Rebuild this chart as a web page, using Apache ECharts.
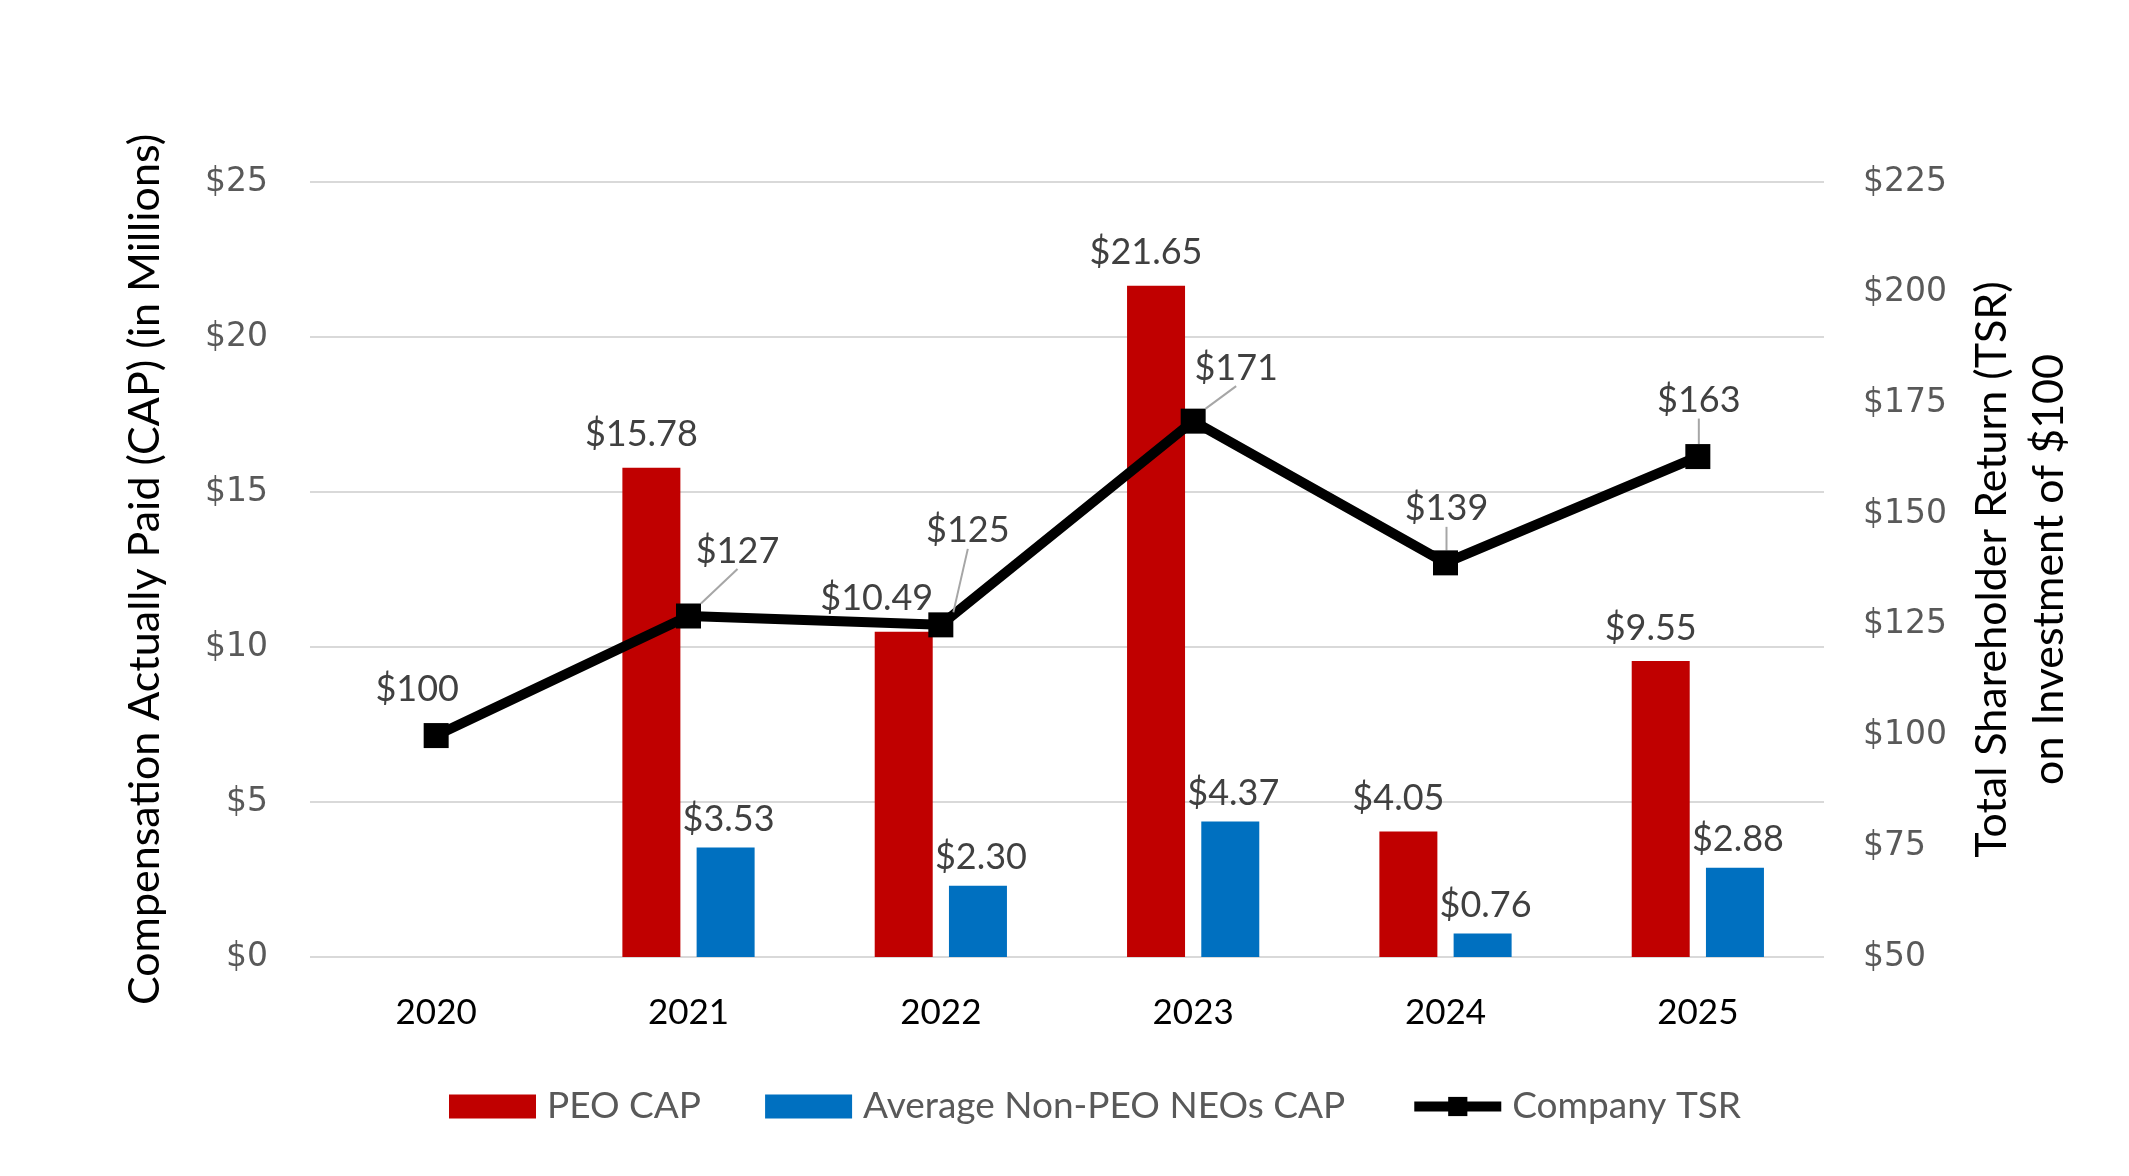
<!DOCTYPE html>
<html>
<head>
<meta charset="utf-8">
<script src="https://cdn.jsdelivr.net/npm/echarts@6/dist/echarts.min.js"></script>
<style>
  html, body { margin: 0; padding: 0; background: #fff; }
  #chart { width: 2129px; height: 1176px; }
</style>
</head>
<body>
<div id="chart"></div>
<script>
// chart data
var years = ['2020', '2021', '2022', '2023', '2024', '2025'];
var peoCap = [null, 15.78, 10.49, 21.65, 4.05, 9.55];
var neoCap = [null, 3.53, 2.30, 4.37, 0.76, 2.88];
var companyTsr = [100, 127, 125, 171, 139, 163];
var leftTicks = [0, 25, 5];      // min, max, interval
var rightTicks = [50, 225, 25];  // min, max, interval

// where the TSR labels sit relative to their point
var tsrLabelShift = [[-19, -46], [49, -65], [27, -94], [43, -53], [1, -54], [1, -56]];

var labelFont = 'Lato';
var chart = echarts.init(document.getElementById('chart'));

var option = {
    backgroundColor: '#fff',
    animation: false,
    grid: {left: 310, right: 305, top: 182, bottom: 219},
    legend: {
        bottom: 46,
        left: 444,
        itemWidth: 87,
        itemHeight: 24,
        itemGap: 64,
        textStyle: {fontFamily: labelFont, fontSize: 37, color: '#595959', padding: [0, 0, 0, 6]},
        data: [
            {name: 'PEO CAP', icon: 'rect'},
            {name: 'Average Non-PEO NEOs CAP', icon: 'rect'},
            {name: 'Company TSR', lineStyle: {width: 10}}
        ]
    },
    xAxis: {
        type: 'category',
        data: years,
        axisLine: {show: false},
        axisTick: {show: false},
        axisLabel: {fontFamily: labelFont, fontSize: 35, color: '#000', margin: 38}
    },
    yAxis: [{
        type: 'value',
        min: leftTicks[0], max: leftTicks[1], interval: leftTicks[2],
        name: 'Compensation Actually Paid (CAP) (in Millions)',
        nameLocation: 'middle',
        nameGap: 143,
        nameTextStyle: {fontFamily: labelFont, fontSize: 43, color: '#000'},
        axisLabel: {fontFamily: 'DejaVu Sans', fontSize: 33, color: '#595959', margin: 42,
            formatter: function (v) { return '$' + v; }},
        splitLine: {lineStyle: {color: '#d9d9d9', width: 2}}
    }, {
        type: 'value',
        min: rightTicks[0], max: rightTicks[1], interval: rightTicks[2],
        name: 'Total Shareholder Return (TSR)\non Investment of $100',
        nameLocation: 'middle',
        nameRotate: 90,
        nameGap: 140,
        nameTextStyle: {fontFamily: labelFont, fontSize: 43, color: '#000', lineHeight: 57},
        axisLabel: {fontFamily: 'DejaVu Sans', fontSize: 33, color: '#595959', margin: 39,
            formatter: function (v) { return '$' + v; }},
        splitLine: {show: false}
    }],
    series: [{
        name: 'PEO CAP',
        type: 'bar',
        barWidth: 58,
        barGap: '28%',
        itemStyle: {color: '#C00000'},
        label: {
            show: true, position: 'top', distance: 15, offset: [-10, 0],
            fontFamily: labelFont, fontSize: 36, color: '#404040',
            formatter: function (p) { return '$' + p.value.toFixed(2); }
        },
        data: peoCap.map(function (v, i) {
            return i === 2 ? {value: v, label: {offset: [-27, 0]}} : v;
        })
    }, {
        name: 'Average Non-PEO NEOs CAP',
        type: 'bar',
        barWidth: 58,
        itemStyle: {color: '#0070C0'},
        label: {
            show: true, position: 'top', distance: 10, offset: [3, 0],
            fontFamily: labelFont, fontSize: 36, color: '#404040',
            formatter: function (p) { return '$' + p.value.toFixed(2); }
        },
        data: neoCap
    }, {
        name: 'Company TSR',
        type: 'line',
        yAxisIndex: 1,
        z: 5,
        symbol: 'rect',
        symbolSize: 25,
        lineStyle: {color: '#000', width: 10},
        itemStyle: {color: '#000'},
        label: {
            show: true, position: 'inside',
            fontFamily: labelFont, fontSize: 36, color: '#404040',
            formatter: function (p) { return '$' + p.value; }
        },
        labelLine: {show: true, lineStyle: {color: '#a6a6a6', width: 2}},
        labelLayout: function (params) {
            var s = tsrLabelShift[params.dataIndex];
            return {dx: s[0], dy: s[1]};
        },
        data: companyTsr.map(function (v, i) {
            return i === 0 ? {value: v, labelLine: {show: false}} : v;
        })
    }]
};

chart.setOption(option);
</script>
</body>
</html>
